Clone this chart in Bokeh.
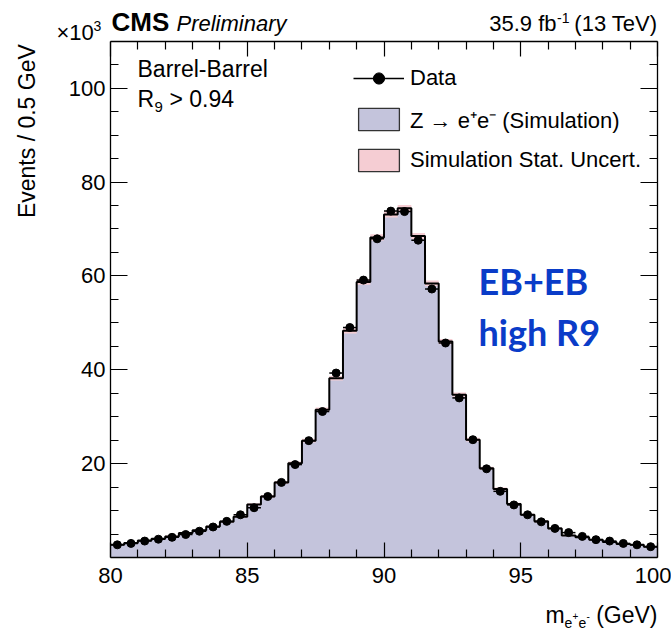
import math
from bokeh.plotting import figure
from bokeh.models import (Range1d, FixedTicker, LinearAxis, Label, Legend,
                          LegendItem, ColumnDataSource, CustomJSTickFormatter)
from bokeh.embed import file_html
from bokeh.resources import INLINE

# ---------------- data ----------------
x_start, x_end = 80.0, 100.0
bin_width = 0.5
n_bins = 40
bin_low = [x_start + bin_width * i for i in range(n_bins)]

# Z -> ee simulation (x10^3 events / 0.5 GeV)
mc_counts = [2.7, 3.1, 3.6, 4.0, 4.5, 5.2, 5.8, 6.6, 7.6, 8.7,
             11.3, 13.0, 16.0, 20.1, 24.9, 31.5, 38.2, 48.3, 58.7, 68.2,
             73.1, 74.4, 68.5, 58.4, 46.0, 34.7, 25.1, 19.0, 14.6, 11.4,
             9.1, 7.7, 6.2, 4.7, 4.3, 3.8, 3.3, 2.9, 2.7, 2.3]
# simulation statistical uncertainty (x10^3)
mc_stat_err = [0.13, 0.14, 0.15, 0.16, 0.17, 0.18, 0.19, 0.21, 0.22, 0.24,
               0.27, 0.29, 0.32, 0.36, 0.40, 0.45, 0.49, 0.56, 0.61, 0.66,
               0.68, 0.69, 0.66, 0.61, 0.54, 0.47, 0.40, 0.35, 0.31, 0.27,
               0.24, 0.22, 0.20, 0.17, 0.17, 0.16, 0.15, 0.14, 0.13, 0.12]
# data (x10^3)
data_counts = [2.7, 3.0, 3.5, 3.9, 4.3, 4.9, 5.6, 6.5, 7.7, 9.1,
               10.6, 13.0, 16.0, 19.8, 24.9, 31.1, 39.3, 49.0, 59.1, 67.9,
               73.8, 73.7, 67.6, 57.2, 45.7, 34.0, 25.1, 18.9, 14.1, 11.2,
               9.1, 7.6, 6.2, 5.3, 4.5, 3.8, 3.5, 3.0, 2.7, 2.3]

x_ticks = [80, 85, 90, 95, 100]
x_tick_labels = ["80", "85", "90", "95", "100"]
x_minor_ticks = [81, 82, 83, 84, 86, 87, 88, 89, 91, 92, 93, 94, 96, 97, 98, 99]
y_ticks = [20, 40, 60, 80, 100]
y_tick_labels = ["20", "40", "60", "80", "100"]
y_minor_ticks = [5, 10, 15, 25, 30, 35, 45, 50, 55, 65, 70, 75, 85, 90, 95, 105]
y_start, y_end = 0.0, 110.0

# ---------------- layout / styles ----------------
W, H = 671, 633
BOX_L, BOX_R, BOX_T, BOX_B = 110.0, 657.0, 40.7, 557.0   # plot box in pixels
FONT = "Liberation Sans"
MC_FILL = "#c4c4dc"
UNC_FILL = "#f5cdd3"
BLUE = "#0a3cc8"
# distance from a label's anchor line to its alphabetic baseline (in em)
BASELINE_K = {"Liberation Sans": 0.35, "Lato": 0.387}

px_x = (BOX_R - BOX_L) / (x_end - x_start)
px_y = (BOX_B - BOX_T) / (y_end - y_start)
view_x = Range1d(x_start - BOX_L / px_x, x_end + (W - BOX_R) / px_x)
view_y = Range1d(y_start - (H - BOX_B) / px_y, y_end + BOX_T / px_y)

bin_high = [b + bin_width for b in bin_low]
centers = [b + bin_width / 2 for b in bin_low]
src = ColumnDataSource(dict(
    left=bin_low, right=bin_high, center=centers,
    data=data_counts,
    data_lo=[d - math.sqrt(d * 1000.0) / 1000.0 for d in data_counts],
    data_hi=[d + math.sqrt(d * 1000.0) / 1000.0 for d in data_counts],
))

p = figure(width=W, height=H, x_range=view_x, y_range=view_y,
           output_backend="svg", toolbar_location=None,
           min_border_left=0, min_border_right=0,
           min_border_top=0, min_border_bottom=0,
           background_fill_color="white", border_fill_color="white")
p.grid.visible = False
p.outline_line_color = None

# histogram fill (one stepped area, no seams)
step_x = bin_low + [bin_high[-1]]
step_y = mc_counts + [mc_counts[-1]]
unc_lo = [m - e for m, e in zip(mc_counts, mc_stat_err)]
unc_hi = [m + e for m, e in zip(mc_counts, mc_stat_err)]
p.varea_step(x=step_x, y1=[0.0] * len(step_x), y2=step_y, step_mode="after",
             fill_color=MC_FILL)
p.varea_step(x=step_x, y1=unc_lo + [unc_lo[-1]], y2=unc_hi + [unc_hi[-1]],
             step_mode="after", fill_color=UNC_FILL)
p.step(x=step_x, y=step_y, mode="after", line_color="black", line_width=2)

# data
xerr_r = p.segment(x0="left", x1="right", y0="data", y1="data", source=src,
                   line_color="black", line_width=1.5)
p.segment(x0="center", x1="center", y0="data_lo", y1="data_hi", source=src,
          line_color="black", line_width=1.5)
dots_r = p.scatter(x="center", y="data", source=src, size=8,
                   fill_color="black", line_color="black")

# ---------------- axes (plot box) ----------------
def style_axis(ax, ticks, minor, labels, major_len, show_labels):
    ax.ticker = FixedTicker(ticks=ticks, minor_ticks=minor)
    ax.axis_line_color = "black"
    ax.axis_line_width = 1.3
    ax.major_tick_in = major_len
    ax.major_tick_out = 0
    ax.minor_tick_in = 8
    ax.minor_tick_out = 0
    ax.major_tick_line_color = "black"
    ax.minor_tick_line_color = "black"
    ax.major_tick_line_width = 1.2
    ax.minor_tick_line_width = 1.2
    if show_labels:
        ax.major_label_overrides = {t: l for t, l in zip(ticks, labels)}
        ax.major_label_text_font = FONT
        ax.major_label_text_font_size = "22px"
        ax.major_label_text_color = "black"
    else:
        ax.formatter = CustomJSTickFormatter(code="return ''")

xa = p.xaxis[0]
xa.fixed_location = y_start
xa.bounds = (x_start, x_end)
style_axis(xa, x_ticks, x_minor_ticks, x_tick_labels, 15, True)
xa.major_label_standoff = 10
ya = p.yaxis[0]
ya.fixed_location = x_start
ya.bounds = (y_start, y_end)
style_axis(ya, y_ticks, y_minor_ticks, y_tick_labels, 17, True)
ya.major_label_standoff = 5

top_ax = LinearAxis(fixed_location=y_end, bounds=(x_start, x_end))
style_axis(top_ax, x_ticks, x_minor_ticks, x_tick_labels, 15, False)
p.add_layout(top_ax, "above")
right_ax = LinearAxis(fixed_location=x_end, bounds=(y_start, y_end))
style_axis(right_ax, y_ticks, y_minor_ticks, y_tick_labels, 17, False)
p.add_layout(right_ax, "right")

# ---------------- texts ----------------
def add_text(text, x, y, xo, yo, size, align="left", style="normal",
             color="black", font=FONT, angle=0.0):
    # xo, yo place the alphabetic baseline relative to (x, y) in pixels
    shift = BASELINE_K[font] * size
    if angle == 0.0:
        yo = yo + shift
    else:
        xo = xo - shift
    p.add_layout(Label(x=x, y=y, x_offset=xo, y_offset=yo, text=text,
                       text_font=font, text_font_size=f"{size}px",
                       text_font_style=style, text_color=color,
                       text_align=align, text_baseline="alphabetic",
                       angle=angle))

# header
add_text("CMS", x_start, y_end, 1, 10, 26, style="bold")
add_text("Preliminary", x_start, y_end, 66, 10, 22, style="italic")
add_text("(13 TeV)", x_end, y_end, 0, 10, 22, align="right")
add_text("-1", x_end, y_end, -88, 18, 14, align="right")
add_text("35.9 fb", x_end, y_end, -101, 10, 22, align="right")
add_text("\u00d710", x_start, y_end, -54, 1, 22)
add_text("3", x_start, y_end, -17, 10, 14)

# axis titles
add_text("Events / 0.5 GeV", x_start, y_end, -75, -3, 23,
         align="right", angle=math.pi / 2)
add_text("(GeV)", x_end, y_start, 0, -66, 23, align="right")
add_text("m", x_end, y_start, -112, -66, 23)
add_text("e", x_end, y_start, -93, -70, 14)
add_text("+", x_end, y_start, -85, -62, 10)
add_text("e", x_end, y_start, -79, -70, 14)
add_text("-", x_end, y_start, -71, -62, 10)

# category texts
add_text("Barrel-Barrel", x_start, y_end, 27, -36, 23)
add_text("R", x_start, y_end, 27, -66, 23)
add_text("9", x_start, y_end, 44, -71, 15)
add_text("> 0.94", x_start, y_end, 59, -66, 23)

# blue annotation
add_text("EB+EB", x_start, y_end, 368, -254, 36, style="bold",
         color=BLUE, font="Lato")
add_text("high R9", x_start, y_end, 368, -305, 36, style="bold",
         color=BLUE, font="Lato")

# ---------------- legend ----------------
nan = float("nan")
vbar_dummy = p.scatter(x=[nan], y=[nan], marker="dash", angle=math.pi / 2,
                       size=8, line_color="black", line_width=1.5)
mc_leg = p.quad(left=[nan], right=[nan], top=[nan], bottom=[nan],
                fill_color=MC_FILL, line_color="#333333", line_width=1.3)
unc_leg = p.quad(left=[nan], right=[nan], top=[nan], bottom=[nan],
                 fill_color=UNC_FILL, line_color="#333333", line_width=1.3)
legend = Legend(items=[
    LegendItem(label="Data", renderers=[xerr_r, vbar_dummy, dots_r]),
    LegendItem(label="Z \u2192 e\u207ae\u207b (Simulation)", renderers=[mc_leg]),
    LegendItem(label="Simulation Stat. Uncert.", renderers=[unc_leg]),
], location=(353, 459), glyph_width=51, glyph_height=28, spacing=12,
    padding=0, margin=0, label_standoff=6, border_line_color=None,
    background_fill_alpha=0, label_text_font=FONT,
    label_text_font_size="22px", label_text_color="black",
    label_height=28)
p.add_layout(legend, "center")

open("out.html", "w").write(file_html(p, INLINE))
